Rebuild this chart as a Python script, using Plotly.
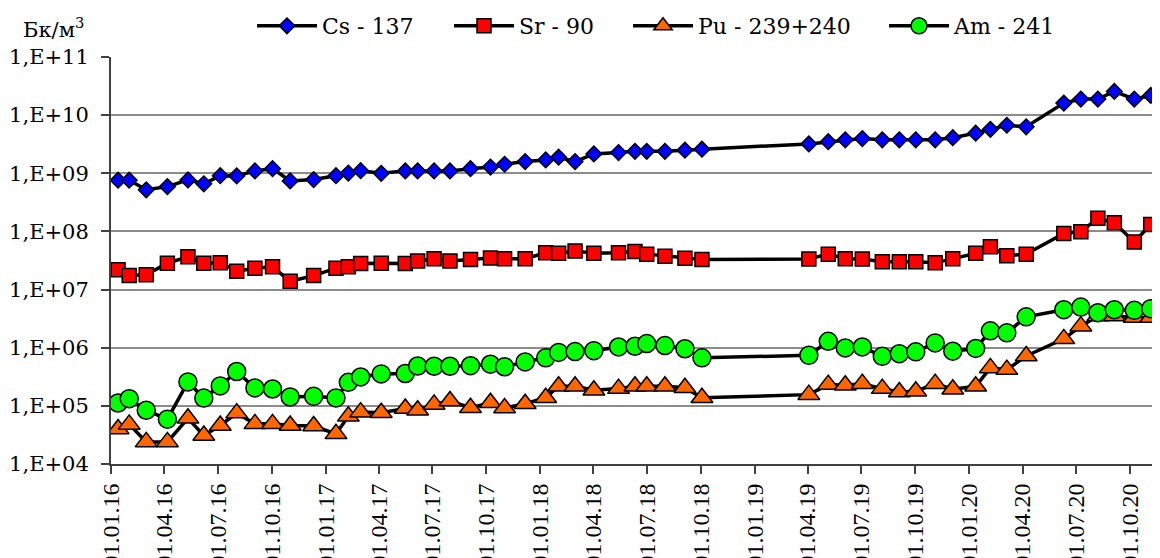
import plotly.graph_objects as go

# ---------------- data ----------------
dates = [
    "2016-01-13", "2016-02-01", "2016-03-01", "2016-04-06", "2016-05-11", "2016-06-07",
    "2016-07-05", "2016-08-02", "2016-09-02", "2016-10-02", "2016-11-01", "2016-12-11",
    "2017-01-18", "2017-02-08", "2017-03-01", "2017-04-05", "2017-05-16", "2017-06-06",
    "2017-07-04", "2017-07-31", "2017-09-04", "2017-10-08", "2017-11-01", "2017-12-06",
    "2018-01-10", "2018-02-01", "2018-03-01", "2018-04-02", "2018-05-14", "2018-06-11",
    "2018-07-01", "2018-08-01", "2018-09-04", "2018-10-03",
    "2019-04-03", "2019-05-06", "2019-06-04", "2019-07-03", "2019-08-06", "2019-09-04",
    "2019-10-02", "2019-11-04", "2019-12-04",
    "2020-01-12", "2020-02-06", "2020-03-05", "2020-04-07", "2020-06-10", "2020-07-09",
    "2020-08-07", "2020-09-04", "2020-10-08", "2020-11-05",
]

cs137 = [
    7.6e8, 7.6e8, 5.2e8, 5.9e8, 7.7e8, 6.6e8, 9.1e8, 9.0e8, 1.10e9, 1.20e9, 7.4e8, 7.8e8,
    9.1e8, 1.01e9, 1.11e9, 1.0e9, 1.10e9, 1.10e9, 1.1e9, 1.1e9, 1.2e9, 1.28e9, 1.43e9, 1.59e9,
    1.70e9, 1.89e9, 1.59e9, 2.15e9, 2.27e9, 2.39e9, 2.39e9, 2.39e9, 2.5e9, 2.6e9,
    3.2e9, 3.5e9, 3.76e9, 3.96e9, 3.76e9, 3.76e9, 3.76e9, 3.76e9, 4.1e9,
    4.9e9, 5.7e9, 6.7e9, 6.3e9, 1.61e10, 1.89e10, 1.89e10, 2.56e10, 1.89e10, 2.18e10,
]

sr90 = [
    2.2e7, 1.74e7, 1.8e7, 2.85e7, 3.66e7, 2.85e7, 2.9e7, 2.07e7, 2.33e7, 2.46e7, 1.39e7, 1.74e7,
    2.33e7, 2.46e7, 2.8e7, 2.85e7, 2.8e7, 3.1e7, 3.4e7, 3.1e7, 3.3e7, 3.5e7, 3.4e7, 3.4e7,
    4.3e7, 4.2e7, 4.6e7, 4.2e7, 4.3e7, 4.5e7, 4.07e7, 3.76e7, 3.47e7, 3.3e7,
    3.35e7, 4.07e7, 3.4e7, 3.35e7, 3.0e7, 3.0e7, 3.0e7, 2.88e7, 3.38e7,
    4.2e7, 5.45e7, 3.8e7, 4.07e7, 9.2e7, 9.9e7, 1.68e8, 1.41e8, 6.6e7, 1.32e8,
]

pu239_240 = [
    4.0e4, 4.8e4, 2.4e4, 2.4e4, 6.1e4, 3.1e4, 4.6e4, 7.5e4, 4.9e4, 4.9e4, 4.6e4, 4.5e4,
    3.3e4, 6.6e4, 7.8e4, 7.6e4, 9.0e4, 8.4e4, 1.06e5, 1.21e5, 9.3e4, 1.13e5, 9.2e4, 1.09e5,
    1.38e5, 2.17e5, 2.17e5, 1.85e5, 1.98e5, 2.17e5, 2.17e5, 2.17e5, 2.05e5, 1.38e5,
    1.56e5, 2.32e5, 2.26e5, 2.41e5, 1.98e5, 1.73e5, 1.78e5, 2.41e5, 1.93e5,
    2.17e5, 4.5e5, 4.2e5, 7.2e5, 1.42e6, 2.35e6, 3.5e6, 3.5e6, 3.3e6, 3.3e6,
]

am241 = [
    1.12e5, 1.33e5, 8.4e4, 5.9e4, 2.58e5, 1.36e5, 2.2e5, 3.9e5, 2.03e5, 1.95e5, 1.42e5, 1.46e5,
    1.37e5, 2.54e5, 3.14e5, 3.54e5, 3.6e5, 4.85e5, 4.8e5, 4.8e5, 4.9e5, 5.2e5, 4.7e5, 5.7e5,
    6.7e5, 8.3e5, 8.6e5, 8.9e5, 1.03e6, 1.06e6, 1.18e6, 1.09e6, 9.6e5, 6.7e5,
    7.4e5, 1.29e6, 9.9e5, 1.03e6, 7.1e5, 7.9e5, 8.5e5, 1.21e6, 8.7e5,
    9.7e5, 1.95e6, 1.8e6, 3.4e6, 4.5e6, 5.0e6, 4.0e6, 4.5e6, 4.4e6, 4.7e6,
]

series_names = ["Cs - 137", "Sr - 90", "Pu - 239+240", "Am - 241"]

y_tick_vals = [1e4, 1e5, 1e6, 1e7, 1e8, 1e9, 1e10, 1e11]
y_tick_labels = ["1,E+04", "1,E+05", "1,E+06", "1,E+07", "1,E+08", "1,E+09", "1,E+10", "1,E+11"]

x_tick_dates = [
    "2016-01-01", "2016-04-01", "2016-07-01", "2016-10-01",
    "2017-01-01", "2017-04-01", "2017-07-01", "2017-10-01",
    "2018-01-01", "2018-04-01", "2018-07-01", "2018-10-01",
    "2019-01-01", "2019-04-01", "2019-07-01", "2019-10-01",
    "2020-01-01", "2020-04-01", "2020-07-01", "2020-10-01",
]
x_tick_labels = [
    "01.01.16", "01.04.16", "01.07.16", "01.10.16",
    "01.01.17", "01.04.17", "01.07.17", "01.10.17",
    "01.01.18", "01.04.18", "01.07.18", "01.10.18",
    "01.01.19", "01.04.19", "01.07.19", "01.10.19",
    "01.01.20", "01.04.20", "01.07.20", "01.10.20",
]
x_range = ["2016-01-01", "2020-11-20 18:00"]
unit_label = "Бк/м<sup>3</sup>"

# ---------------- style ----------------
# the page body adds an 8px offset, so the figure is 8px smaller than the window
FONT = "DejaVu Serif"
XFONT = "Liberation Serif"
W, H = 1152, 550
ML, MT, MB = 103, 49, 94

styles = [
    dict(symbol="diamond", size=12, color="#0000FF"),
    dict(symbol="square", size=14, color="#FF0000"),
    dict(symbol="triangle-up", size=19, color="#FF6600"),
    dict(symbol="circle", size=18, color="#00FF00"),
]
legend_ids = ["legend", "legend2", "legend3", "legend4"]
legend_px = [244, 441, 620, 876]

fig = go.Figure()
for name, vals, st, lg in zip(series_names, [cs137, sr90, pu239_240, am241], styles, legend_ids):
    fig.add_trace(go.Scatter(
        x=dates, y=vals, name=name, mode="lines+markers",
        line=dict(color="black", width=3.5),
        marker=dict(symbol=st["symbol"], size=st["size"], color=st["color"],
                    line=dict(color="black", width=1.5)),
        legend=lg, cliponaxis=True,
    ))

legend_common = dict(
    orientation="h", xref="container", yref="container", xanchor="left", yanchor="middle",
    y=1 - 18 / H, bgcolor="rgba(0,0,0,0)", borderwidth=0, itemwidth=60,
    font=dict(family=FONT, size=22, color="black"),
)
layout_legends = {}
for lg, px in zip(legend_ids, legend_px):
    layout_legends[lg] = dict(legend_common, x=px / W)

fig.update_layout(
    width=W, height=H,
    margin=dict(l=ML, r=0, t=MT, b=MB, pad=0, autoexpand=False),
    paper_bgcolor="white", plot_bgcolor="white",
    font=dict(family=FONT, size=21, color="black"),
    showlegend=True,
    **layout_legends,
)

fig.update_xaxes(
    type="date", range=x_range, automargin=False,
    tickmode="array", tickvals=x_tick_dates, ticktext=x_tick_labels,
    tickangle=-90, ticks="outside", ticklen=8, tickwidth=1.5, tickcolor="#404040",
    showline=True, linecolor="#404040", linewidth=2,
    showgrid=False, zeroline=False,
    tickfont=dict(family=XFONT, size=24, color="black"),
)
fig.update_yaxes(
    type="log", range=[4, 11], automargin=False,
    tickmode="array", tickvals=y_tick_vals, ticktext=y_tick_labels,
    ticks="outside", ticklen=8, tickwidth=1.5, tickcolor="#404040",
    ticklabelstandoff=8,
    showline=True, linecolor="#404040", linewidth=2,
    showgrid=True, gridcolor="#8c8c8c", gridwidth=1.5, zeroline=False,
    tickfont=dict(family=FONT, size=21, color="black"),
)

fig.add_annotation(
    text=unit_label, xref="paper", yref="paper",
    x=(13 - ML) / (W - ML), y=1 + (MT - 20) / (H - MT - MB),
    xanchor="left", yanchor="middle", showarrow=False,
    font=dict(family=FONT, size=21, color="black"),
)

fig.write_html("out.html")
